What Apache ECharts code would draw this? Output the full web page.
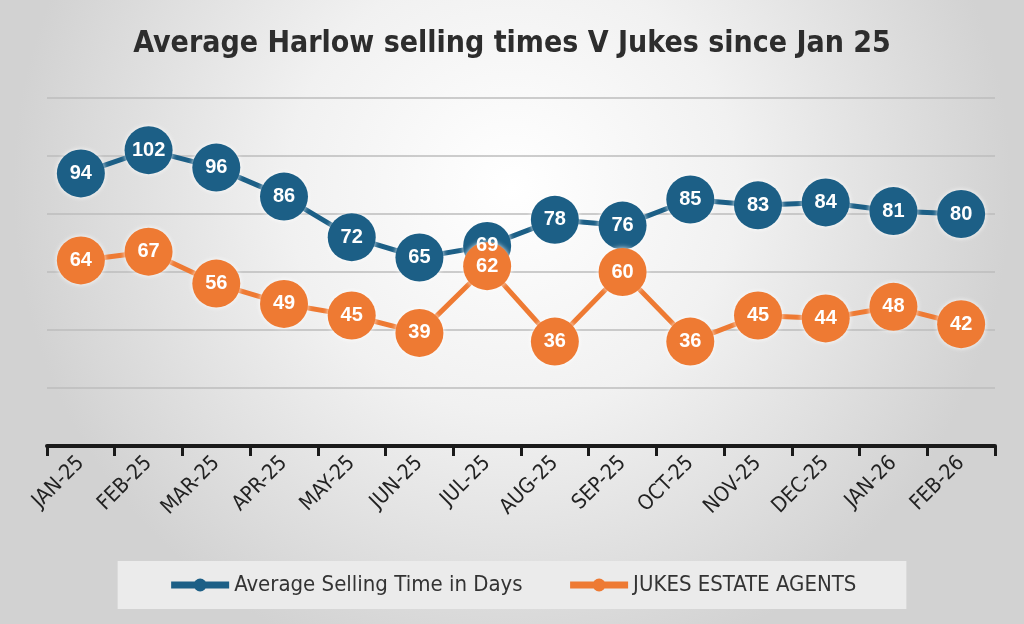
<!DOCTYPE html>
<html>
<head>
    <meta charset="UTF-8">
    <title>Average Harlow selling times V Jukes since Jan 25</title>
    <script src="https://cdn.jsdelivr.net/npm/echarts@6.0.0/dist/echarts.min.js"></script>
    <style>
        html, body { margin: 0; padding: 0; }
        #chart { width: 1024px; height: 624px; }
    </style>
</head>
<body>
    <div id="chart"></div>

    <script>
        const months = ['JAN-25', 'FEB-25', 'MAR-25', 'APR-25', 'MAY-25', 'JUN-25', 'JUL-25',
                        'AUG-25', 'SEP-25', 'OCT-25', 'NOV-25', 'DEC-25', 'JAN-26', 'FEB-26'];
        const harlowDays = [94, 102, 96, 86, 72, 65, 69, 78, 76, 85, 83, 84, 81, 80];
        const jukesDays = [64, 67, 56, 49, 45, 39, 62, 36, 60, 36, 45, 44, 48, 42];

        const narrow = "'DejaVu Sans Condensed', 'Liberation Sans Narrow', sans-serif";

        function lineSeries(name, data, color) {
            return {
                name: name,
                type: 'line',
                data: data,
                symbol: 'circle',
                symbolSize: 48,
                lineStyle: { color: color, width: 5 },
                itemStyle: {
                    color: color,
                    shadowColor: 'rgba(255,255,255,0.9)',
                    shadowBlur: 5
                },
                label: {
                    show: true,
                    position: 'inside',
                    color: '#fff',
                    fontSize: 20,
                    fontWeight: 'bold',
                    fontFamily: "'Liberation Sans', Arial, sans-serif"
                },
                emphasis: { disabled: true },
                animation: false
            };
        }

        const chart = echarts.init(document.getElementById('chart'));

        chart.setOption({
            backgroundColor: {
                type: 'radial', x: 0.5, y: 0.3, r: 0.8,
                colorStops: [
                    { offset: 0, color: '#ffffff' },
                    { offset: 0.45, color: '#f1f1f1' },
                    { offset: 1, color: '#d2d2d2' }
                ]
            },
            title: {
                text: 'Average Harlow selling times V Jukes since Jan 25',
                left: 'center',
                top: 24,
                textStyle: {
                    fontFamily: narrow,
                    fontSize: 30,
                    fontWeight: 'bold',
                    color: '#2d2d2d'
                }
            },
            legend: {
                left: 'center',
                top: 561,
                padding: [13, 50],
                itemGap: 44,
                itemWidth: 58,
                itemHeight: 16,
                backgroundColor: '#ebebeb',
                lineStyle: { width: 7 },
                textStyle: { fontFamily: narrow, fontSize: 22, color: '#333' },
                data: ['Average Selling Time in Days', 'JUKES ESTATE AGENTS']
            },
            grid: {
                left: 47, right: 29, top: 98, bottom: 178,
                outerBoundsMode: 'none'
            },
            xAxis: {
                type: 'category',
                data: months,
                boundaryGap: true,
                axisLine: { lineStyle: { color: '#1a1a1a', width: 4 } },
                axisTick: { show: true, length: 10, lineStyle: { color: '#1a1a1a', width: 3 } },
                axisLabel: {
                    rotate: 45,
                    margin: 14,
                    color: '#222',
                    fontSize: 21,
                    fontFamily: narrow
                }
            },
            yAxis: {
                type: 'value',
                min: 0,
                max: 120,
                interval: 20,
                axisLine: { show: false },
                axisTick: { show: false },
                axisLabel: { show: false },
                splitLine: { lineStyle: { color: '#bdbdbd', width: 1.5 } }
            },
            series: [
                lineSeries('Average Selling Time in Days', harlowDays, '#1c5f86'),
                lineSeries('JUKES ESTATE AGENTS', jukesDays, '#ee7a33')
            ]
        });
    </script>
</body>
</html>
